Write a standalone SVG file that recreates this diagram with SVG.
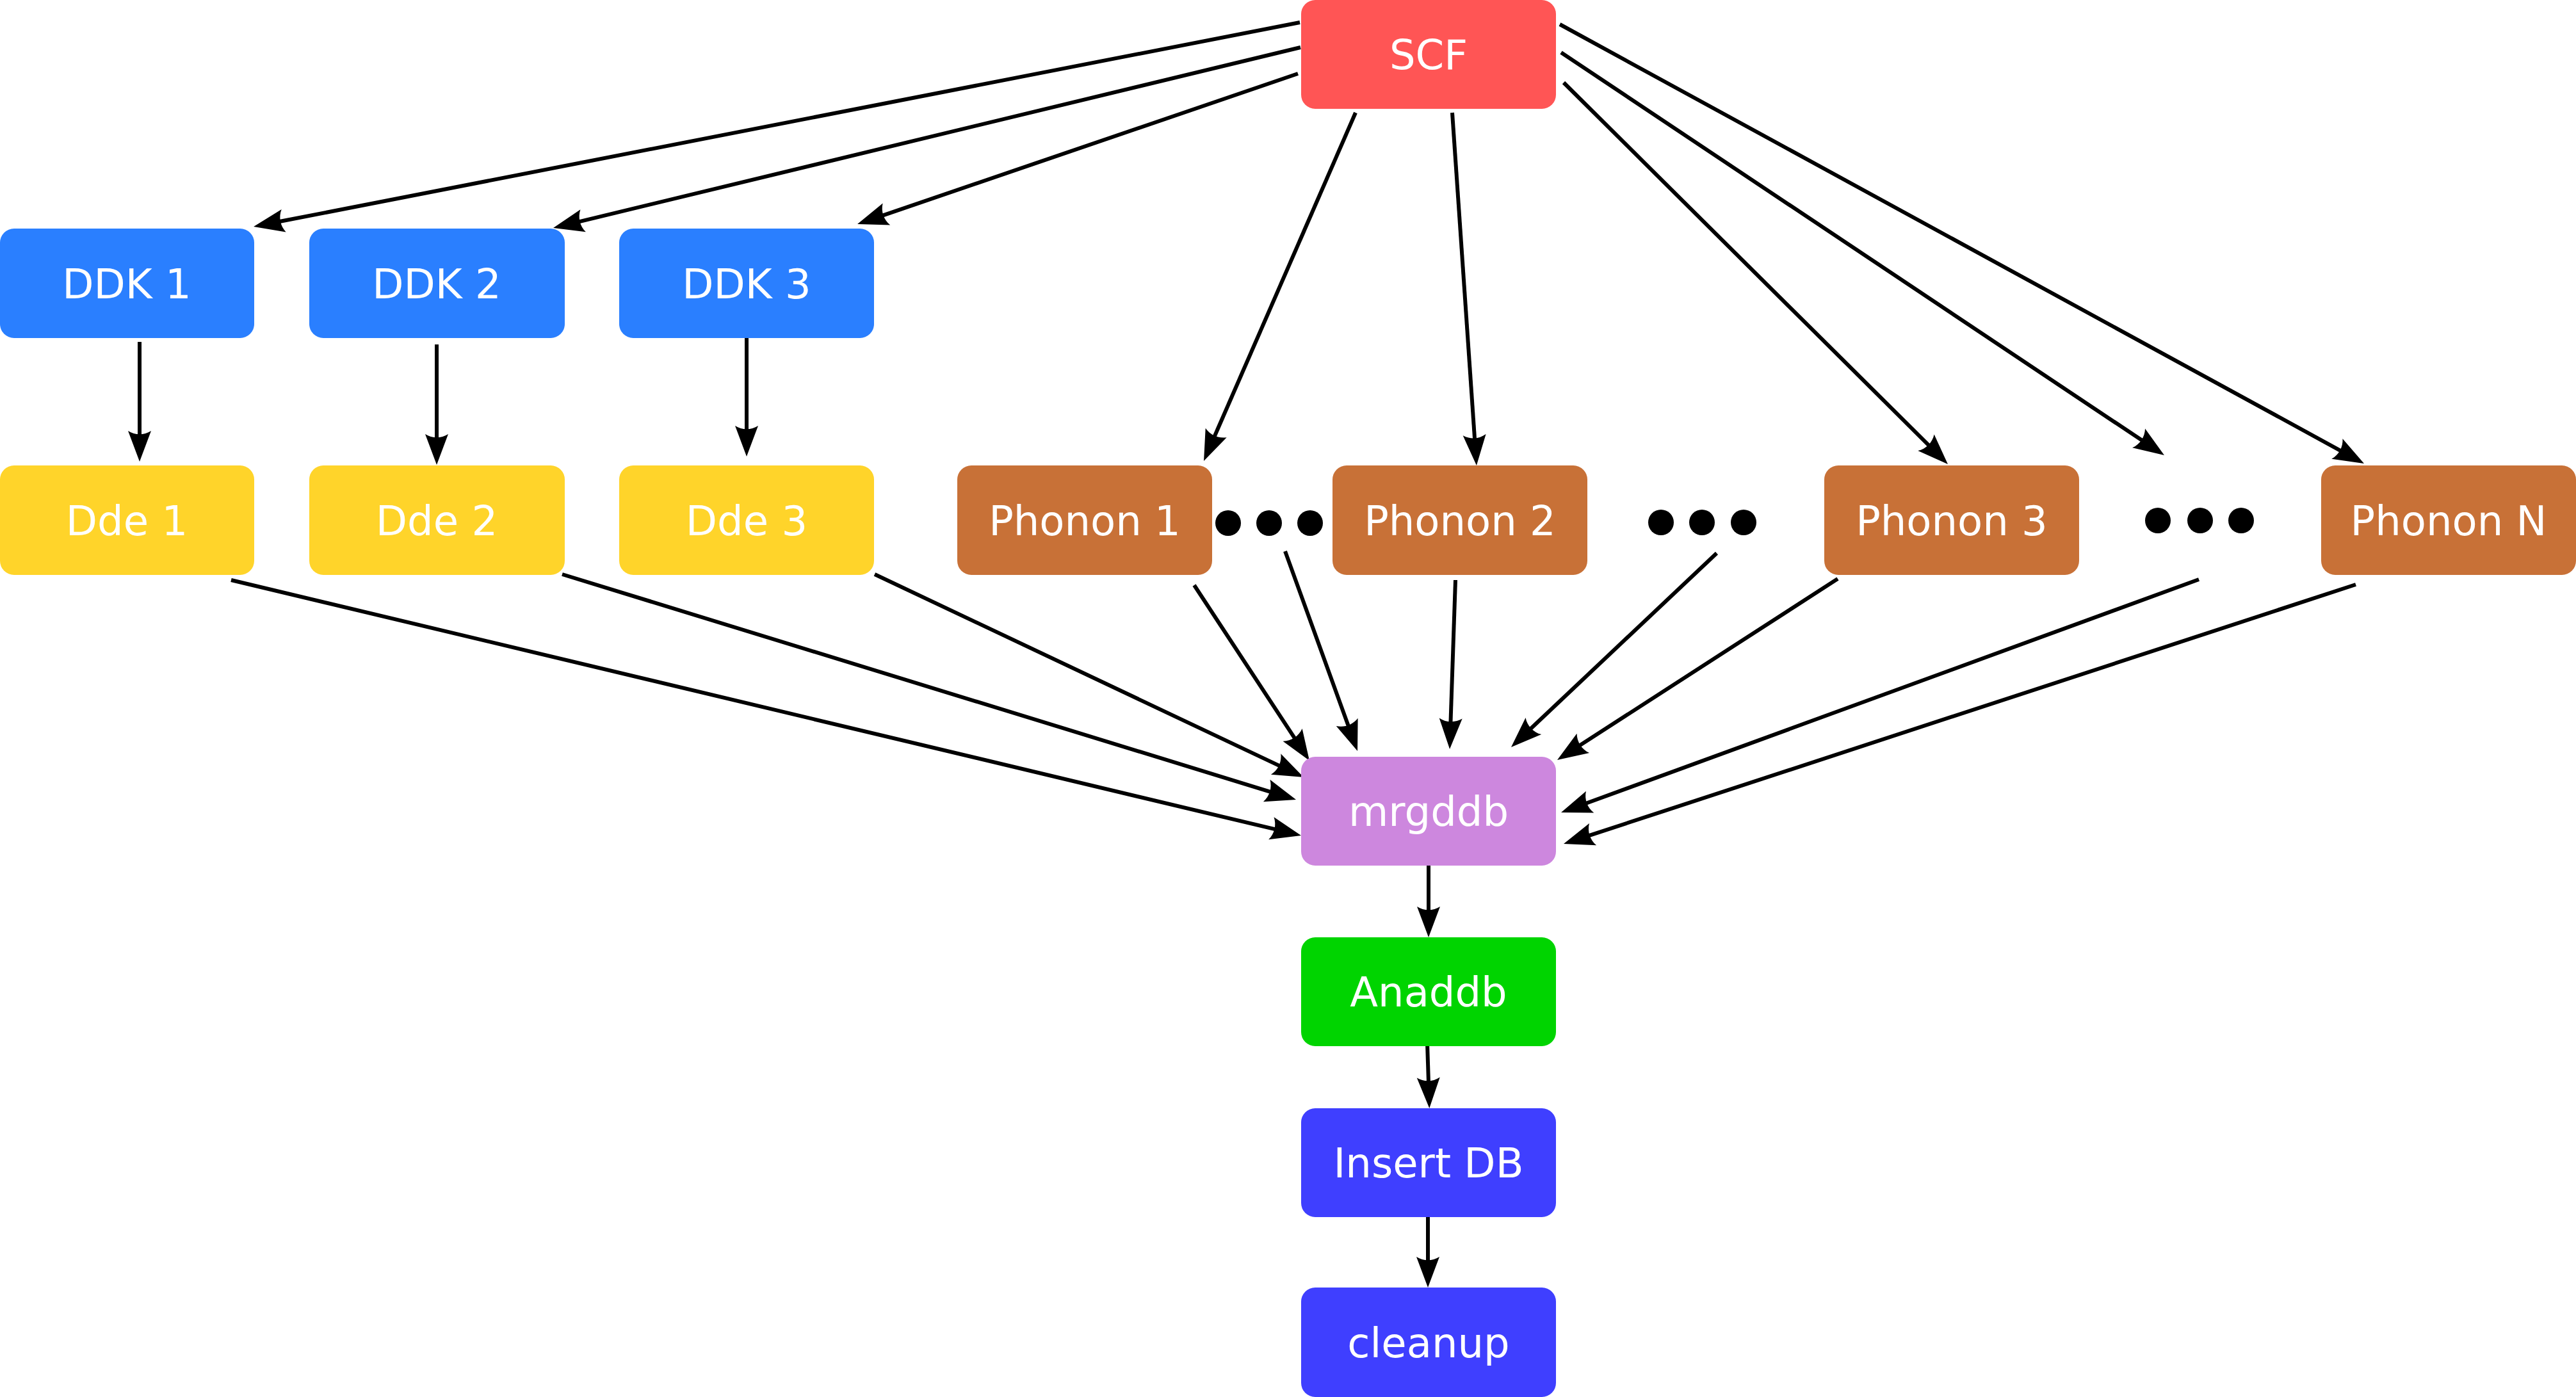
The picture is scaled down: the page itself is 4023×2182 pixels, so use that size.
<svg xmlns="http://www.w3.org/2000/svg" width="4023" height="2182" viewBox="0 0 4023 2182">
<style>
.box{stroke:none}
.lbl{font-family:"DejaVu Sans",sans-serif;font-size:64px;fill:#ffffff;text-anchor:middle}
.edge{fill:none;stroke:#000;stroke-width:6;marker-end:url(#ah)}
.dot{fill:#000}
</style>
<defs>
<marker id="ah" markerUnits="userSpaceOnUse" orient="auto" refX="0" refY="0" markerWidth="120" markerHeight="60" viewBox="-20 -30 120 60" overflow="visible">
<path d="M40,0 L-8,-18 C-1,-7 -1,7 -8,18 Z" fill="#000"/>
</marker>
</defs>
<rect width="4023" height="2182" fill="#fff"/>
<g id="connectors">
<line class="edge" x1="2030" y1="35" x2="435.3" y2="346.3"/>
<line class="edge" x1="2031" y1="74" x2="902.9" y2="346.6"/>
<line class="edge" x1="2027" y1="115" x2="1376.9" y2="337.1"/>
<line class="edge" x1="2117" y1="176" x2="1896" y2="683.3"/>
<line class="edge" x1="2268" y1="176" x2="2303.2" y2="687.1"/>
<line class="edge" x1="2442" y1="129" x2="3013.6" y2="696.8"/>
<line class="edge" x1="2438" y1="82" x2="3346.7" y2="688.8"/>
<line class="edge" x1="2436" y1="38" x2="3656.9" y2="704.8"/>
<line class="edge" x1="218" y1="534" x2="218" y2="681"/>
<line class="edge" x1="682" y1="538" x2="682" y2="686"/>
<line class="edge" x1="1166" y1="526" x2="1166" y2="673"/>
<line class="edge" x1="361" y1="906" x2="1993.1" y2="1295.7"/>
<line class="edge" x1="878" y1="897" x2="1985.8" y2="1237.3"/>
<line class="edge" x1="1366" y1="897" x2="1999.8" y2="1196.9"/>
<line class="edge" x1="1865" y1="914" x2="2023" y2="1154.6"/>
<line class="edge" x1="2007" y1="861" x2="2106.4" y2="1135.4"/>
<line class="edge" x1="2273" y1="906" x2="2265.4" y2="1130"/>
<line class="edge" x1="2681" y1="864" x2="2389.1" y2="1139.5"/>
<line class="edge" x1="2870" y1="904" x2="2465.6" y2="1165.3"/>
<line class="edge" x1="3434" y1="905" x2="2475.6" y2="1255.3"/>
<line class="edge" x1="3679" y1="913" x2="2480" y2="1305.6"/>
<line class="edge" x1="2231" y1="1340" x2="2231" y2="1424"/>
<line class="edge" x1="2229" y1="1629" x2="2231" y2="1691"/>
<line class="edge" x1="2230" y1="1897" x2="2230" y2="1971"/>
</g>
<g id="dots">
<circle class="dot" cx="1918" cy="817" r="20"/>
<circle class="dot" cx="1982" cy="817" r="20"/>
<circle class="dot" cx="2046" cy="817" r="20"/>
<circle class="dot" cx="2594" cy="816" r="20"/>
<circle class="dot" cx="2658" cy="816" r="20"/>
<circle class="dot" cx="2723" cy="816" r="20"/>
<circle class="dot" cx="3370" cy="813" r="20"/>
<circle class="dot" cx="3436" cy="813" r="20"/>
<circle class="dot" cx="3500" cy="813" r="20"/>
</g>
<g id="scf"><rect class="box" x="2032" y="0" width="398" height="170" rx="22" fill="#ff5555"/><text class="lbl" x="2231" y="108">SCF</text></g>
<g id="ddk1"><rect class="box" x="0" y="357" width="397" height="171" rx="22" fill="#2a7fff"/><text class="lbl" x="198" y="466">DDK 1</text></g>
<g id="ddk2"><rect class="box" x="483" y="357" width="399" height="171" rx="22" fill="#2a7fff"/><text class="lbl" x="682" y="466">DDK 2</text></g>
<g id="ddk3"><rect class="box" x="967" y="357" width="398" height="171" rx="22" fill="#2a7fff"/><text class="lbl" x="1166" y="466">DDK 3</text></g>
<g id="dde1"><rect class="box" x="0" y="727" width="397" height="171" rx="22" fill="#ffd42a"/><text class="lbl" x="198" y="836">Dde 1</text></g>
<g id="dde2"><rect class="box" x="483" y="727" width="399" height="171" rx="22" fill="#ffd42a"/><text class="lbl" x="682" y="836">Dde 2</text></g>
<g id="dde3"><rect class="box" x="967" y="727" width="398" height="171" rx="22" fill="#ffd42a"/><text class="lbl" x="1166" y="836">Dde 3</text></g>
<g id="phonon1"><rect class="box" x="1495" y="727" width="398" height="171" rx="22" fill="#c87137"/><text class="lbl" x="1694" y="836">Phonon 1</text></g>
<g id="phonon2"><rect class="box" x="2081" y="727" width="398" height="171" rx="22" fill="#c87137"/><text class="lbl" x="2280" y="836">Phonon 2</text></g>
<g id="phonon3"><rect class="box" x="2849" y="727" width="398" height="171" rx="22" fill="#c87137"/><text class="lbl" x="3048" y="836">Phonon 3</text></g>
<g id="phononN"><rect class="box" x="3625" y="727" width="398" height="171" rx="22" fill="#c87137"/><text class="lbl" x="3824" y="836">Phonon N</text></g>
<g id="mrgddb"><rect class="box" x="2032" y="1182" width="398" height="170" rx="22" fill="#cd87de"/><text class="lbl" x="2231" y="1290">mrgddb</text></g>
<g id="anaddb"><rect class="box" x="2032" y="1464" width="398" height="170" rx="22" fill="#00d400"/><text class="lbl" x="2231" y="1572">Anaddb</text></g>
<g id="insertdb"><rect class="box" x="2032" y="1731" width="398" height="170" rx="22" fill="#3f3fff"/><text class="lbl" x="2231" y="1839">Insert DB</text></g>
<g id="cleanup"><rect class="box" x="2032" y="2011" width="398" height="171" rx="22" fill="#3f3fff"/><text class="lbl" x="2231" y="2120">cleanup</text></g>
</svg>
